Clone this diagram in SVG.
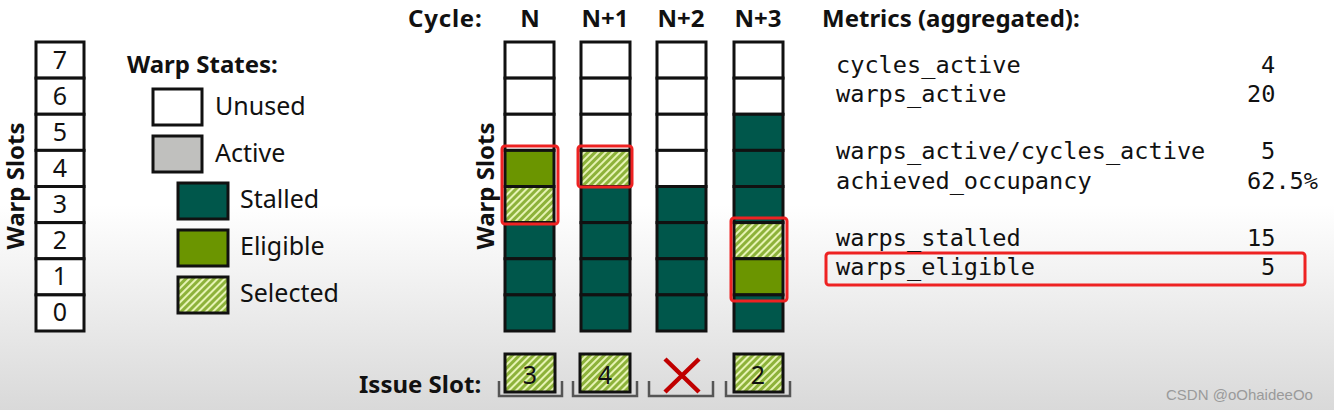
<svg xmlns="http://www.w3.org/2000/svg" width="1334" height="410" viewBox="0 0 1334 410">
<defs>
<linearGradient id="bg" x1="0" y1="0" x2="0" y2="1">
<stop offset="0" stop-color="#ffffff"/>
<stop offset="0.5" stop-color="#ffffff"/>
<stop offset="1" stop-color="#d9d9d9"/>
</linearGradient>
<pattern id="sel" width="5" height="5" patternUnits="userSpaceOnUse" patternTransform="rotate(45)">
<rect width="5" height="5" fill="#8db23a"/>
<rect width="2" height="5" fill="#e6f3b4"/>
</pattern>
</defs>
<style>
.c{stroke:#111;stroke-width:3}
.u{fill:#fff}
.a{fill:#c0c0be}
.s{fill:#00574b}
.e{fill:#6b9500}
.x{fill:url(#sel)}
.lbl{font-family:"Noto Sans","DejaVu Sans",sans-serif;font-size:25px;fill:#111}
.b{font-family:"Noto Sans","DejaVu Sans",sans-serif;font-size:24px;font-weight:bold;fill:#111}
.num{font-family:"Noto Sans","DejaVu Sans",sans-serif;font-size:25px;fill:#111;text-anchor:middle}
.m{font-family:"DejaVu Sans Mono","Liberation Mono",monospace;font-size:23.6px;fill:#111}
.hl{fill:none;stroke:#ee2222;stroke-width:3}
.tray{fill:none;stroke:#555;stroke-width:2.5}
</style>
<rect x="0" y="0" width="1334" height="410" fill="url(#bg)"/>

<g id="left-slots">
<rect class="c u" x="36" y="42" width="48" height="36.125"/>
<rect class="c u" x="36" y="78.125" width="48" height="36.125"/>
<rect class="c u" x="36" y="114.25" width="48" height="36.125"/>
<rect class="c u" x="36" y="150.375" width="48" height="36.125"/>
<rect class="c u" x="36" y="186.5" width="48" height="36.125"/>
<rect class="c u" x="36" y="222.625" width="48" height="36.125"/>
<rect class="c u" x="36" y="258.75" width="48" height="36.125"/>
<rect class="c u" x="36" y="294.875" width="48" height="36.125"/>
<text class="num" x="60" y="69">7</text>
<text class="num" x="60" y="105">6</text>
<text class="num" x="60" y="141">5</text>
<text class="num" x="60" y="177">4</text>
<text class="num" x="60" y="213">3</text>
<text class="num" x="60" y="249">2</text>
<text class="num" x="60" y="285">1</text>
<text class="num" x="60" y="321">0</text>
<text class="b" transform="translate(24,186) rotate(-90)" text-anchor="middle" font-size="25.5">Warp Slots</text>
</g>

<g id="legend">
<text class="b" x="127" y="73" font-size="25">Warp States:</text>
<rect class="c u" x="153" y="89" width="49" height="36"/>
<text class="lbl" x="215" y="115">Unused</text>
<rect class="c a" x="153" y="136" width="49" height="36"/>
<text class="lbl" x="215" y="162">Active</text>
<rect class="c s" x="178" y="183" width="50" height="36"/>
<text class="lbl" x="240" y="208">Stalled</text>
<rect class="c e" x="178" y="230" width="50" height="36"/>
<text class="lbl" x="240" y="255">Eligible</text>
<rect class="c x" x="178" y="277" width="50" height="36"/>
<text class="lbl" x="240" y="302">Selected</text>
</g>

<g id="cycle-header">
<text class="b" x="408" y="27" font-size="25" letter-spacing="0.8">Cycle:</text>
<text class="b" x="530" y="27" text-anchor="middle">N</text>
<text class="b" x="605" y="27" text-anchor="middle">N+1</text>
<text class="b" x="681" y="27" text-anchor="middle">N+2</text>
<text class="b" x="758" y="27" text-anchor="middle">N+3</text>
<text class="b" transform="translate(494,186) rotate(-90)" text-anchor="middle" font-size="25.5">Warp Slots</text>
</g>

<g id="col-N">
<rect class="c u" x="505" y="42" width="49" height="36.125"/>
<rect class="c u" x="505" y="78.125" width="49" height="36.125"/>
<rect class="c u" x="505" y="114.25" width="49" height="36.125"/>
<rect class="c e" x="505" y="150.375" width="49" height="36.125"/>
<rect class="c x" x="505" y="186.5" width="49" height="36.125"/>
<rect class="c s" x="505" y="222.625" width="49" height="36.125"/>
<rect class="c s" x="505" y="258.75" width="49" height="36.125"/>
<rect class="c s" x="505" y="294.875" width="49" height="36.125"/>
</g>
<g id="col-N1">
<rect class="c u" x="581" y="42" width="49" height="36.125"/>
<rect class="c u" x="581" y="78.125" width="49" height="36.125"/>
<rect class="c u" x="581" y="114.25" width="49" height="36.125"/>
<rect class="c x" x="581" y="150.375" width="49" height="36.125"/>
<rect class="c s" x="581" y="186.5" width="49" height="36.125"/>
<rect class="c s" x="581" y="222.625" width="49" height="36.125"/>
<rect class="c s" x="581" y="258.75" width="49" height="36.125"/>
<rect class="c s" x="581" y="294.875" width="49" height="36.125"/>
</g>
<g id="col-N2">
<rect class="c u" x="657" y="42" width="49" height="36.125"/>
<rect class="c u" x="657" y="78.125" width="49" height="36.125"/>
<rect class="c u" x="657" y="114.25" width="49" height="36.125"/>
<rect class="c u" x="657" y="150.375" width="49" height="36.125"/>
<rect class="c s" x="657" y="186.5" width="49" height="36.125"/>
<rect class="c s" x="657" y="222.625" width="49" height="36.125"/>
<rect class="c s" x="657" y="258.75" width="49" height="36.125"/>
<rect class="c s" x="657" y="294.875" width="49" height="36.125"/>
</g>
<g id="col-N3">
<rect class="c u" x="734" y="42" width="49" height="36.125"/>
<rect class="c u" x="734" y="78.125" width="49" height="36.125"/>
<rect class="c s" x="734" y="114.25" width="49" height="36.125"/>
<rect class="c s" x="734" y="150.375" width="49" height="36.125"/>
<rect class="c s" x="734" y="186.5" width="49" height="36.125"/>
<rect class="c x" x="734" y="222.625" width="49" height="36.125"/>
<rect class="c e" x="734" y="258.75" width="49" height="36.125"/>
<rect class="c s" x="734" y="294.875" width="49" height="36.125"/>
</g>

<g id="highlights">
<rect class="hl" x="502" y="146" width="56" height="78" rx="3"/>
<rect class="hl" x="578" y="146" width="54" height="41" rx="3"/>
<rect class="hl" x="731" y="218" width="56" height="83" rx="3"/>
<rect class="hl" x="826" y="253" width="479" height="32" rx="3"/>
</g>

<g id="issue-slots">
<text class="b" x="359" y="393">Issue Slot:</text>
<path class="tray" d="M499,381 V396 H562 V381"/>
<path class="tray" d="M573,381 V396 H637 V381"/>
<path class="tray" d="M649,381 V396 H713 V381"/>
<path class="tray" d="M726,381 V396 H790 V381"/>
<rect class="c x" x="505" y="354" width="50" height="38"/>
<text class="num" x="530" y="384">3</text>
<rect class="c x" x="580" y="354" width="50" height="38"/>
<text class="num" x="605" y="384">4</text>
<path d="M665,359 L699,392 M699,359 L665,392" stroke="#c00000" stroke-width="4.5" fill="none"/>
<rect class="c x" x="734" y="354" width="49" height="38"/>
<text class="num" x="758" y="384">2</text>
</g>

<g id="metrics">
<text class="b" x="822" y="27">Metrics (aggregated):</text>
<text class="m" x="836" y="73">cycles_active</text>
<text class="m" x="1261" y="73">4</text>
<text class="m" x="836" y="102">warps_active</text>
<text class="m" x="1247" y="102">20</text>
<text class="m" x="836" y="159">warps_active/cycles_active</text>
<text class="m" x="1261" y="159">5</text>
<text class="m" x="836" y="189">achieved_occupancy</text>
<text class="m" x="1247" y="189">62.5%</text>
<text class="m" x="836" y="246">warps_stalled</text>
<text class="m" x="1247" y="246">15</text>
<text class="m" x="836" y="275">warps_eligible</text>
<text class="m" x="1261" y="275">5</text>
</g>

<text x="1166" y="400" font-family="Liberation Sans, Arial, sans-serif" font-size="15" fill="#9a9a9a">CSDN @oOhaideeOo</text>
</svg>
